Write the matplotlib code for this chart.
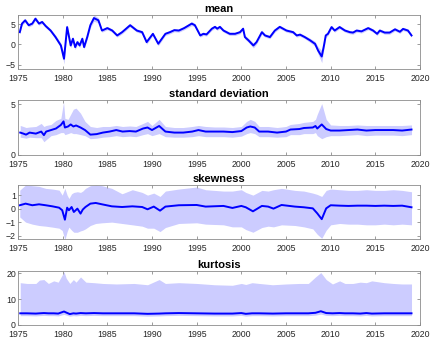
import matplotlib
matplotlib.use("Agg")
import matplotlib.pyplot as plt
import numpy as np

plt.rcParams['font.family'] = ['Liberation Sans', 'DejaVu Sans']

# ---------------- data ----------------
mean_t = [1975.2, 1975.45, 1975.8, 1976.2, 1976.6, 1976.95, 1977.35, 1977.7, 1978.1, 1978.65,
          1979.2, 1979.8, 1980.15, 1980.5, 1980.9, 1981.15, 1981.4, 1981.65, 1981.9, 1982.2,
          1982.4, 1982.75, 1983.1, 1983.5, 1984.0, 1984.4, 1985.0, 1985.55, 1986.1, 1986.65,
          1987.55, 1988.3, 1988.9, 1989.4, 1990.1, 1990.7, 1991.5, 1992.0, 1992.5, 1993.0,
          1993.6, 1994.45, 1994.8, 1995.4, 1995.75, 1996.1, 1996.7, 1997.05, 1997.3, 1997.6,
          1998.0, 1998.7, 1999.3, 1999.85, 2000.2, 2000.4, 2000.8, 2001.35, 2001.7, 2002.3,
          2002.65, 2003.2, 2003.75, 2004.3, 2005.05, 2005.8, 2006.2, 2006.57, 2007.1, 2007.7,
          2008.25, 2008.6, 2009.0, 2009.25, 2009.45, 2009.7, 2010.1, 2010.45, 2011.0, 2011.6,
          2012.15, 2012.5, 2012.9, 2013.45, 2014.2, 2014.75, 2015.2, 2015.5, 2016.05, 2016.6,
          2017.2, 2017.75, 2018.1, 2018.65, 2019.05]
mean_v = [3.0, 5.1, 5.9, 4.7, 5.1, 6.3, 5.1, 5.5, 4.5, 3.4,
          1.8, -0.25, -3.5, 4.25, -0.25, 1.4, -0.65, 0.57, -0.25, 1.4,
          -0.65, 1.8, 4.7, 6.45, 5.9, 3.4, 4.0, 3.4, 2.2, 3.0,
          4.7, 3.4, 3.0, 0.57, 2.6, 0.17, 2.6, 3.0, 3.5, 3.4,
          4.0, 5.1, 4.7, 2.2, 2.6, 2.45, 3.85, 4.3, 3.85, 4.3,
          3.4, 2.6, 2.6, 3.0, 3.85, 1.8, 1.0, -0.25, 0.57, 3.0,
          2.2, 1.8, 3.4, 4.3, 3.4, 3.0, 2.2, 2.4, 1.8, 1.0,
          0.15, -1.5, -2.95, -0.25, 2.2, 2.6, 4.25, 3.4, 4.25, 3.4,
          3.0, 2.9, 3.4, 3.2, 4.0, 3.4, 2.6, 3.4, 2.9, 2.9,
          3.7, 3.1, 3.8, 3.4, 2.2]
mean_hw = [0.4, 0.4, 0.5, 0.4, 0.4, 0.5, 0.4, 0.4, 0.4, 0.4,
           0.5, 0.6, 1.3, 0.6, 0.6, 0.5, 0.6, 0.5, 0.5, 0.5,
           0.5, 0.5, 0.6, 0.8, 0.6, 0.4, 0.4, 0.4, 0.4, 0.4,
           0.4, 0.4, 0.4, 0.5, 0.4, 0.5, 0.4, 0.4, 0.4, 0.4,
           0.4, 0.5, 0.4, 0.4, 0.4, 0.4, 0.4, 0.4, 0.4, 0.4,
           0.4, 0.4, 0.4, 0.4, 0.4, 0.5, 0.5, 0.6, 0.5, 0.5,
           0.4, 0.4, 0.4, 0.4, 0.4, 0.4, 0.4, 0.4, 0.4, 0.5,
           0.6, 0.9, 1.5, 0.8, 0.5, 0.4, 0.4, 0.4, 0.4, 0.4,
           0.4, 0.4, 0.4, 0.4, 0.4, 0.4, 0.4, 0.4, 0.4, 0.4,
           0.4, 0.4, 0.4, 0.4, 0.4]

std_t = [1975.25, 1975.6, 1975.9, 1976.3, 1977.0, 1977.6, 1977.9, 1978.15, 1978.7, 1979.25,
         1979.8, 1980.1, 1980.25, 1980.6, 1980.9, 1981.2, 1981.5, 1982.0, 1982.5, 1983.1,
         1983.8, 1984.5, 1985.25, 1986.0, 1986.7, 1987.5, 1988.2, 1989.0, 1989.5, 1990.0,
         1990.8, 1991.5, 1992.5, 1993.5, 1994.5, 1995.2, 1996.0, 1997.0, 1998.0, 1999.0,
         2000.0, 2000.6, 2001.0, 2001.5, 2002.0, 2003.0, 2004.0, 2005.0, 2005.5, 2006.5,
         2007.0, 2008.0, 2008.3, 2008.5, 2009.0, 2009.5, 2010.0, 2011.0, 2012.0, 2013.0,
         2014.0, 2015.0, 2016.0, 2017.0, 2018.0, 2019.05]
std_v = [2.2, 2.1, 2.0, 2.2, 2.1, 2.3, 1.95, 2.3, 2.45, 2.6,
         2.95, 3.3, 2.7, 2.8, 3.0, 2.8, 2.9, 2.7, 2.45, 2.0,
         2.05, 2.2, 2.3, 2.45, 2.3, 2.35, 2.3, 2.6, 2.7, 2.45,
         2.85, 2.3, 2.2, 2.2, 2.3, 2.45, 2.3, 2.3, 2.3, 2.25,
         2.35, 2.7, 2.8, 2.7, 2.3, 2.3, 2.2, 2.3, 2.5, 2.55,
         2.65, 2.7, 2.85, 2.6, 3.0, 2.55, 2.4, 2.4, 2.45, 2.5,
         2.4, 2.45, 2.45, 2.45, 2.4, 2.5]
std_hi = [2.9, 2.8, 2.7, 2.75, 2.8, 3.1, 2.8, 2.9, 3.0, 3.4,
          3.6, 5.2, 3.6, 3.5, 4.0, 4.5, 4.6, 4.1, 3.3, 2.8,
          2.7, 2.8, 2.8, 2.9, 2.8, 2.85, 2.8, 3.1, 3.3, 2.9,
          3.5, 2.8, 2.7, 2.7, 2.8, 2.9, 2.8, 2.75, 2.75, 2.7,
          2.8, 3.3, 3.5, 3.3, 2.8, 2.8, 2.7, 2.8, 3.0, 3.1,
          3.2, 3.3, 3.5, 4.0, 5.05, 3.5, 2.95, 2.9, 2.9, 2.95,
          2.9, 2.9, 2.9, 2.9, 2.9, 2.95]
std_lo = [1.75, 1.7, 1.65, 1.75, 1.7, 1.7, 1.3, 1.5, 1.9, 2.0,
          2.2, 2.2, 2.0, 2.1, 2.2, 2.1, 2.1, 2.0, 1.9, 1.6,
          1.65, 1.75, 1.8, 1.9, 1.8, 1.85, 1.8, 2.0, 2.1, 1.9,
          2.1, 1.8, 1.75, 1.75, 1.8, 1.9, 1.8, 1.8, 1.8, 1.75,
          1.85, 2.1, 2.2, 2.1, 1.8, 1.8, 1.75, 1.8, 2.0, 2.0,
          2.1, 2.1, 2.2, 1.9, 1.6, 1.8, 1.9, 1.9, 1.95, 2.0,
          1.9, 1.95, 1.95, 1.95, 1.9, 2.0]

skew_t = [1975.2, 1975.85, 1976.6, 1977.35, 1978.1, 1978.85, 1979.6, 1979.95, 1980.25, 1980.5,
          1980.7, 1981.0, 1981.25, 1981.65, 1982.0, 1982.25, 1982.55, 1983.1, 1983.7, 1984.4,
          1985.5, 1986.65, 1987.8, 1988.9, 1989.5, 1990.2, 1990.9, 1991.5, 1993.0, 1995.0,
          1996.0, 1998.0, 1999.0, 2000.0, 2000.5, 2001.3, 2002.3, 2003.0, 2003.6, 2004.5,
          2006.0, 2007.0, 2008.0, 2008.5, 2009.0, 2009.5, 2010.0, 2011.0, 2012.0, 2013.0,
          2014.0, 2015.0, 2016.0, 2017.0, 2018.0, 2019.05]
skew_v = [0.25, 0.37, 0.25, 0.32, 0.25, 0.17, 0.07, -0.12, -0.82, 0.07,
          -0.12, 0.12, -0.25, 0.0, -0.37, -0.07, 0.12, 0.37, 0.42, 0.32,
          0.17, 0.12, 0.17, 0.12, -0.05, 0.15, -0.15, 0.15, 0.25, 0.27,
          0.15, 0.2, 0.05, 0.2, 0.1, -0.2, 0.2, 0.15, 0.0, 0.27,
          0.15, 0.1, 0.02, -0.35, -0.78, 0.02, 0.25, 0.22, 0.2, 0.22,
          0.22, 0.2, 0.22, 0.2, 0.22, 0.1]
skew_hi = [1.37, 1.75, 1.7, 1.65, 1.5, 1.45, 1.37, 1.0, 1.5, 1.0,
           0.75, 1.1, 1.2, 1.25, 1.2, 1.3, 1.5, 1.7, 1.75, 1.7,
           1.5, 1.1, 1.4, 1.2, 1.0, 1.15, 0.9, 1.3, 1.45, 1.6,
           1.4, 1.3, 1.3, 1.4, 1.2, 1.0, 1.35, 1.3, 1.4, 1.5,
           1.35, 1.3, 1.15, 1.05, 0.9, 1.35, 1.45, 1.4, 1.35, 1.35,
           1.4, 1.35, 1.35, 1.4, 1.35, 1.25]
skew_lo = [-0.62, -1.0, -1.15, -1.25, -1.3, -1.37, -1.45, -1.62, -2.3, -1.7,
           -1.37, -1.6, -1.75, -1.75, -1.65, -1.6, -1.5, -1.25, -1.1, -1.05,
           -1.0, -1.1, -1.2, -1.3, -1.45, -1.45, -1.7, -1.4, -1.1, -1.05,
           -1.15, -1.2, -1.35, -1.35, -1.55, -1.75, -1.4, -1.3, -1.35, -1.2,
           -1.25, -1.35, -1.5, -1.9, -2.2, -1.6, -1.2, -1.1, -1.15, -1.15,
           -1.2, -1.2, -1.15, -1.2, -1.15, -1.2]

kurt_t = [1975.25, 1976.0, 1977.0, 1977.4, 1977.9, 1978.4, 1979.0, 1979.5, 1980.15, 1980.4,
          1980.8, 1981.2, 1981.5, 1982.0, 1982.6, 1983.5, 1984.5, 1986.0, 1988.0, 1989.5,
          1990.8, 1991.5, 1993.0, 1995.0, 1997.0, 1999.0, 2000.0, 2000.5, 2001.2, 2002.0,
          2003.5, 2005.0, 2006.5, 2007.5, 2008.3, 2008.9, 2009.5, 2010.2, 2011.0, 2011.6,
          2012.5, 2013.3, 2014.0, 2014.6, 2016.0, 2017.0, 2018.0, 2019.05]
kurt_v = [4.5, 4.5, 4.4, 4.5, 4.6, 4.5, 4.5, 4.4, 5.2, 4.8,
          4.2, 4.5, 4.4, 4.6, 4.5, 4.6, 4.5, 4.5, 4.5, 4.3,
          4.4, 4.5, 4.6, 4.5, 4.4, 4.4, 4.6, 4.3, 4.5, 4.5,
          4.4, 4.5, 4.5, 4.5, 4.7, 5.3, 4.6, 4.5, 4.6, 4.5,
          4.5, 4.4, 4.6, 4.4, 4.5, 4.5, 4.5, 4.5]
kurt_hi = [16.3, 16.0, 16.0, 17.3, 17.5, 16.0, 17.0, 16.5, 20.5, 18.0,
           16.0, 17.5, 16.5, 18.5, 16.5, 16.3, 16.0, 15.8, 16.0, 15.5,
           17.5, 16.0, 16.3, 16.0, 15.5, 15.3, 16.0, 15.6, 16.3, 16.0,
           15.5, 15.8, 16.0, 16.0, 18.5, 20.2, 17.5, 15.8, 17.0, 16.0,
           16.0, 16.5, 16.3, 17.0, 16.3, 16.0, 15.8, 15.8]
kurt_lo = [3.6, 3.6, 3.5, 3.6, 3.7, 3.6, 3.6, 3.5, 4.1, 3.8,
           3.4, 3.6, 3.5, 3.7, 3.6, 3.7, 3.6, 3.6, 3.6, 3.4,
           3.5, 3.6, 3.7, 3.6, 3.5, 3.5, 3.7, 3.4, 3.6, 3.6,
           3.5, 3.6, 3.6, 3.6, 3.8, 4.2, 3.7, 3.6, 3.7, 3.6,
           3.6, 3.5, 3.7, 3.5, 3.6, 3.6, 3.6, 3.6]

titles = ["mean", "standard deviation", "skewness", "kurtosis"]
x_ticks = [1975, 1980, 1985, 1990, 1995, 2000, 2005, 2010, 2015, 2020]
y_ticks = [[-5, 0, 5], [0, 5], [-2, -1, 0, 1], [0, 10, 20]]
y_lims = [(-6.0, 7.2), (0, 5.4), (-2.25, 1.75), (0, 20.8)]

# ---------------- plot ----------------
W, H = 432, 341
fig = plt.figure(figsize=(W / 100, H / 100), dpi=100)

# axes boxes in pixel coords: (left, top, right, bottom)
boxes = [(18, 15, 420, 69), (18, 100, 420, 155), (18, 185, 420, 239), (18, 271, 420, 325)]

band_color = (0.8, 0.8, 1.0)
line_color = (0.0, 0.0, 1.0)
edge = '#8c8c8c'
txt = '#262626'

series = [
    (mean_t, mean_v, [m - h for m, h in zip(mean_v, mean_hw)], [m + h for m, h in zip(mean_v, mean_hw)]),
    (std_t, std_v, std_lo, std_hi),
    (skew_t, skew_v, skew_lo, skew_hi),
    (kurt_t, kurt_v, kurt_lo, kurt_hi),
]

for i, (l, t, r, b) in enumerate(boxes):
    ax = fig.add_axes([l / W, 1 - b / H, (r - l) / W, (b - t) / H])
    tt, vv, lo, hi = series[i]
    ax.fill_between(tt, lo, hi, color=band_color, linewidth=0)
    ax.plot(tt, vv, color=line_color, linewidth=1.4, solid_joinstyle='round')
    ax.set_xlim(1975, 2020)
    ax.set_ylim(*y_lims[i])
    ax.set_xticks(x_ticks)
    ax.set_yticks(y_ticks[i])
    ax.tick_params(direction='in', length=2.5, width=0.6, colors=edge,
                   labelcolor=txt, labelsize=6.3, top=True, right=True)
    ax.tick_params(axis='x', pad=3.8)
    ax.tick_params(axis='y', pad=1.5)
    for s in ax.spines.values():
        s.set_color(edge)
        s.set_linewidth(0.6)
    ax.set_title(titles[i], fontsize=8, fontweight='bold', color='black', pad=2.5)

fig.savefig("out.png", dpi=100)
